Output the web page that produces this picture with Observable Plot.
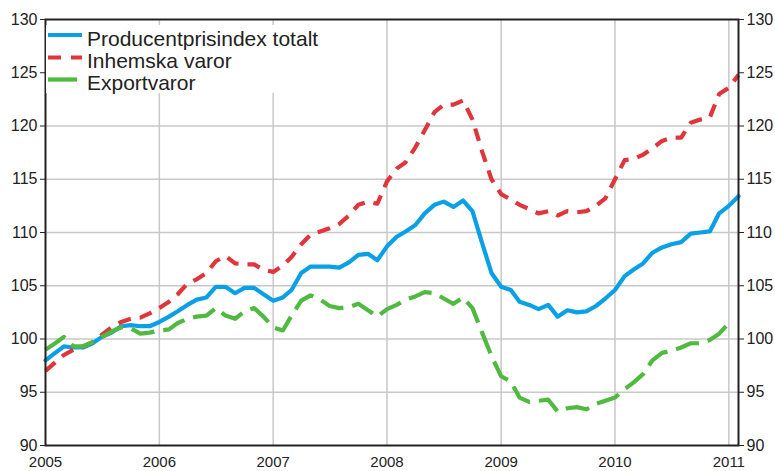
<!DOCTYPE html>
<html><head><meta charset="utf-8">
<script src="https://cdn.jsdelivr.net/npm/d3@7"></script>
<script src="https://cdn.jsdelivr.net/npm/@observablehq/plot@0.6"></script>
<style>body{margin:0;background:#fff}</style>
</head><body><div id="chart"></div>
<script>
// Monthly index values, Jan 2005 onwards
const total = [
  98.0, 98.7, 99.3, 99.2, 99.2, 99.6, 100.2, 100.6, 101.2, 101.3, 101.2, 101.2,
  101.6, 102.1, 102.6, 103.2, 103.7, 103.9, 104.9, 104.9, 104.3, 104.8, 104.8, 104.2,
  103.6, 103.9, 104.6, 106.2, 106.8, 106.8, 106.8, 106.7, 107.2, 107.9, 108.0, 107.4,
  108.7, 109.6, 110.1, 110.7, 111.8, 112.6, 112.9, 112.4, 113.0, 112.0, 109.0, 106.2,
  104.9, 104.6, 103.5, 103.2, 102.8, 103.2, 102.1, 102.7, 102.5, 102.6, 103.1, 103.8,
  104.6, 105.9, 106.5, 107.1, 108.1, 108.6, 108.9, 109.1, 109.9, 110.0, 110.1, 111.8,
  112.5, 113.4
];
const domestic = [
  97.0, 97.8, 98.5, 99.0, 99.3, 99.7, 100.4, 101.1, 101.6, 101.9, 102.0, 102.4,
  102.9, 103.5, 104.2, 105.2, 105.6, 106.2, 107.3, 107.8, 107.1, 107.0, 107.0, 106.5,
  106.3, 106.9, 107.7, 108.9, 109.8, 110.1, 110.4, 110.8, 111.6, 112.6, 112.9, 112.7,
  114.8, 116.0, 116.6, 118.0, 119.6, 121.3, 122.0, 122.0, 122.4, 120.6, 117.6, 115.0,
  113.6, 113.1, 112.6, 112.2, 111.8, 112.0, 111.6, 112.0, 111.9, 112.0, 112.5, 113.2,
  115.0, 116.8, 116.9, 117.3, 117.9, 118.6, 118.9, 118.9, 120.3, 120.6, 120.8, 123.0,
  123.6, 124.8
];
const exportGoods = [
  99.0, 99.6, 100.2, 99.3, 99.3, 99.7, 100.2, 100.7, 101.1, 101.0, 100.5, 100.6,
  100.8, 100.9, 101.5, 101.9, 102.1, 102.2, 102.9, 102.2, 101.9, 102.6, 102.9, 102.1,
  101.1, 100.8, 102.2, 103.6, 104.1, 103.7, 103.1, 102.9, 103.0, 103.3, 102.7, 102.1,
  102.8, 103.2, 103.7, 104.0, 104.4, 104.3, 103.8, 103.3, 103.9, 102.9, 100.6, 98.4,
  96.5, 96.0, 94.5, 94.1, 94.2, 94.3, 93.2, 93.5, 93.6, 93.4, 93.9, 94.2,
  94.5, 95.3, 95.9, 96.7, 98.0, 98.7, 98.9, 99.2, 99.6, 99.6, 99.9, 100.5,
  101.5
];
const seriesNames = ["Producentprisindex totalt", "Inhemska varor", "Exportvaror"];
const years = [2005, 2006, 2007, 2008, 2009, 2010, 2011];
const yTicks = [90, 95, 100, 105, 110, 115, 120, 125, 130];
const yGrid = [95, 100, 105, 110, 115, 120];

const colors = ["#0aa0e6", "#e0353b", "#4fba3f"];
const month = i => new Date(Date.UTC(2005, i, 1));
const rows = arr => arr.map((v, i) => ({date: month(i), value: v}));
const yearDates = years.map(y => new Date(Date.UTC(y, 0, 1)));
const font = "'Liberation Sans', Arial, sans-serif";

const svg = Plot.plot({
  width: 775, height: 471,
  marginLeft: 45, marginRight: 37, marginTop: 19, marginBottom: 26,
  style: {fontFamily: font, fontSize: "16px", color: "#222", background: "#fff"},
  x: {type: "utc", domain: [month(0), month(73)]},
  y: {domain: [90, 130]},
  marks: [
    Plot.gridX(yearDates.slice(1), {stroke: "#c8c8c8", strokeOpacity: 1, strokeWidth: 1.5}),
    Plot.gridY(yGrid, {stroke: "#c8c8c8", strokeOpacity: 1, strokeWidth: 1.5}),
    Plot.line(rows(total), {x: "date", y: "value", stroke: colors[0], strokeWidth: 4.2}),
    Plot.line(rows(domestic), {x: "date", y: "value", stroke: colors[1], strokeWidth: 4.2, strokeDasharray: "13,9", strokeLinecap: "butt"}),
    Plot.line(rows(exportGoods), {x: "date", y: "value", stroke: colors[2], strokeWidth: 4.2, strokeDasharray: "24,9", strokeLinecap: "butt"}),
    Plot.frame({stroke: "#222", strokeWidth: 2}),
    Plot.axisY(yTicks, {anchor: "left", tickSize: 5, tickPadding: 3, label: null}),
    Plot.axisY(yTicks, {anchor: "right", tickSize: 5, tickPadding: 3, label: null}),
    Plot.axisX(yearDates, {anchor: "bottom", tickSize: 0, tickPadding: 11, fontSize: 15, tickFormat: d => String(d.getUTCFullYear()), label: null})
  ]
});

// Legend
const g = d3.select(svg).append("g").attr("text-anchor", "start");
g.append("rect").attr("x", 46).attr("y", 25).attr("width", 290).attr("height", 68).attr("fill", "#fff");
const ly = [35, 57.5, 79.5];
const dash = [null, "13,10", "29,10"];
seriesNames.forEach((name, i) => {
  const l = g.append("line").attr("x1", 48).attr("x2", 82).attr("y1", ly[i]).attr("y2", ly[i])
    .attr("stroke", colors[i]).attr("stroke-width", 4.2);
  if (dash[i]) l.attr("stroke-dasharray", dash[i]);
  g.append("text").attr("x", 87).attr("y", ly[i] + 10.5).attr("text-anchor", "start").text(name)
    .attr("fill", "#222").style("font-size", "21px").style("font-family", font);
});

document.getElementById("chart").appendChild(svg);
</script>
</body></html>
